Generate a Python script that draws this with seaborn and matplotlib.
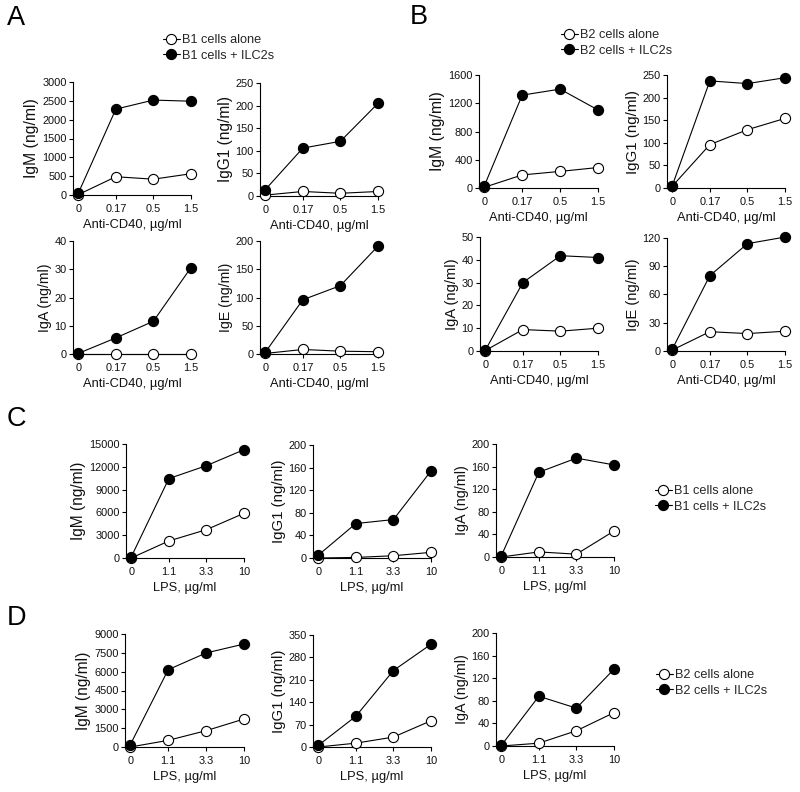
import matplotlib
matplotlib.use("Agg")
import matplotlib.pyplot as plt
import seaborn as sns
import pandas as pd
import numpy as np
from matplotlib.lines import Line2D

sns.set_theme(style="ticks")
plt.rcParams['font.family'] = ['Liberation Sans', 'DejaVu Sans']

# ---------------- data ----------------
x_cd40 = ["0", "0.17", "0.5", "1.5"]
x_lps = ["0", "1.1", "3.3", "10"]

A_IgM_alone = [10, 485, 420, 565]
A_IgM_ilc2 = [45, 2280, 2520, 2490]
A_IgG1_alone = [2, 10, 6, 10]
A_IgG1_ilc2 = [14, 106, 121, 205]
A_IgA_alone = [0, 0, 0, 0]
A_IgA_ilc2 = [0.2, 5.7, 11.6, 30.6]
A_IgE_alone = [1, 8, 5, 4]
A_IgE_ilc2 = [3, 96, 121, 191]

B_IgM_alone = [10, 185, 235, 290]
B_IgM_ilc2 = [30, 1315, 1400, 1105]
B_IgG1_alone = [4, 96, 129, 154]
B_IgG1_ilc2 = [5, 237, 231, 244]
B_IgA_alone = [0.2, 9.4, 8.7, 10]
B_IgA_ilc2 = [0.3, 30, 41.8, 41]
B_IgE_alone = [1, 20.5, 18.5, 21]
B_IgE_ilc2 = [2, 80, 114, 121]

C_IgM_alone = [0, 2240, 3730, 5880]
C_IgM_ilc2 = [150, 10450, 12150, 14250]
C_IgG1_alone = [0, 1, 4, 10]
C_IgG1_ilc2 = [5, 61, 68, 154]
C_IgA_alone = [0, 9, 5, 46]
C_IgA_ilc2 = [2, 150, 175, 163]

D_IgM_alone = [0, 530, 1300, 2230]
D_IgM_ilc2 = [185, 6160, 7490, 8200]
D_IgG1_alone = [0, 12, 31, 82]
D_IgG1_ilc2 = [5, 96, 239, 321]
D_IgA_alone = [0, 5, 27, 59]
D_IgA_ilc2 = [1, 88, 67, 136]

xlab_cd40 = "Anti-CD40, µg/ml"
xlab_lps = "LPS, µg/ml"

# ---------------- layout ----------------
W, H = 800, 792
fig = plt.figure(figsize=(W / 100, H / 100), dpi=100)

def px_axes(L, R, T, B):
    return fig.add_axes([L / W, 1 - B / H, (R - L) / W, (B - T) / H])

panels = [
    # (L, R, T, B, xlabels, xlabel, ylabel, alone, ilc2, ymax, ystep, ylabel size)
    (73, 191, 82, 195, x_cd40, xlab_cd40, "IgM (ng/ml)", A_IgM_alone, A_IgM_ilc2, 3000, 500, 11.3),
    (260, 378, 83, 196, x_cd40, xlab_cd40, "IgG1 (ng/ml)", A_IgG1_alone, A_IgG1_ilc2, 250, 50, 11.2),
    (73, 191, 241, 354, x_cd40, xlab_cd40, "IgA (ng/ml)", A_IgA_alone, A_IgA_ilc2, 40, 10, 10.2),
    (260, 378, 241, 354, x_cd40, xlab_cd40, "IgE (ng/ml)", A_IgE_alone, A_IgE_ilc2, 200, 50, 10.2),
    (479, 598, 75, 188, x_cd40, xlab_cd40, "IgM (ng/ml)", B_IgM_alone, B_IgM_ilc2, 1600, 400, 11.3),
    (667, 785, 75, 188, x_cd40, xlab_cd40, "IgG1 (ng/ml)", B_IgG1_alone, B_IgG1_ilc2, 250, 50, 10.9),
    (480, 598, 237, 351, x_cd40, xlab_cd40, "IgA (ng/ml)", B_IgA_alone, B_IgA_ilc2, 50, 10, 10.6),
    (667, 785, 238, 351, x_cd40, xlab_cd40, "IgE (ng/ml)", B_IgE_alone, B_IgE_ilc2, 120, 30, 10.6),
    (126, 244, 444, 558, x_lps, xlab_lps, "IgM (ng/ml)", C_IgM_alone, C_IgM_ilc2, 15000, 3000, 11.2),
    (313, 431, 445, 558, x_lps, xlab_lps, "IgG1 (ng/ml)", C_IgG1_alone, C_IgG1_ilc2, 200, 40, 10.8),
    (496, 614, 444, 557, x_lps, xlab_lps, "IgA (ng/ml)", C_IgA_alone, C_IgA_ilc2, 200, 40, 10.4),
    (125, 244, 634, 747, x_lps, xlab_lps, "IgM (ng/ml)", D_IgM_alone, D_IgM_ilc2, 9000, 1500, 11.2),
    (313, 431, 635, 747, x_lps, xlab_lps, "IgG1 (ng/ml)", D_IgG1_alone, D_IgG1_ilc2, 350, 70, 10.8),
    (496, 614, 633, 746, x_lps, xlab_lps, "IgA (ng/ml)", D_IgA_alone, D_IgA_ilc2, 200, 40, 10.4),
]

tick_fs = 7.9
lab_fs = 9.3
ms = 7.3

for (L, R, T, B, xl, xlab, ylab, alone, ilc2, ymax, ystep, yfs) in panels:
    ax = px_axes(L, R, T, B)
    pos = np.arange(len(xl))
    df = pd.DataFrame({"x": np.concatenate([pos, pos]),
                       "y": list(alone) + list(ilc2),
                       "grp": ["alone"] * len(xl) + ["ilc2"] * len(xl)})
    sns.lineplot(data=df[df.grp == "alone"], x="x", y="y", ax=ax, color="black",
                 lw=0.8, marker="o", markersize=ms, markerfacecolor="white",
                 markeredgecolor="black", markeredgewidth=0.8, clip_on=False, zorder=3)
    sns.lineplot(data=df[df.grp == "ilc2"], x="x", y="y", ax=ax, color="black",
                 lw=0.8, marker="o", markersize=ms, markerfacecolor="black",
                 markeredgecolor="black", markeredgewidth=0.8, clip_on=False, zorder=4)
    ax.set_xlim(-0.14, 3)
    ax.set_ylim(0, ymax)
    ax.set_xticks(pos)
    ax.set_xticklabels(xl)
    yt = np.arange(0, ymax + ystep / 2, ystep)
    ax.set_yticks(yt)
    ax.set_yticklabels([f"{int(v)}" for v in yt])
    ax.tick_params(axis="both", labelsize=tick_fs, length=3, width=0.8,
                   color="black", labelcolor="#111111")
    ax.tick_params(axis="x", pad=3.5)
    ax.tick_params(axis="y", pad=1.5)
    for s in ["top", "right"]:
        ax.spines[s].set_visible(False)
    for s in ["left", "bottom"]:
        ax.spines[s].set_linewidth(0.8)
        ax.spines[s].set_color("black")
    ax.set_xlabel(xlab, fontsize=lab_fs, labelpad=3.5, color="#111111")
    ax.set_ylabel(ylab, fontsize=yfs, labelpad=2, color="#111111")
    ax.set_facecolor("none")
    ax.grid(False)

# ---------------- legends ----------------
def make_legend(x, y, cell):
    h1 = Line2D([0], [0], color="black", lw=0.8, marker="o", markersize=ms,
                markerfacecolor="white", markeredgecolor="black", markeredgewidth=0.8)
    h2 = Line2D([0], [0], color="black", lw=0.8, marker="o", markersize=ms,
                markerfacecolor="black", markeredgecolor="black", markeredgewidth=0.8)
    fig.legend([h1, h2], [f"{cell} cells alone", f"{cell} cells + ILC2s"],
               loc="center left", bbox_to_anchor=(x / W, 1 - y / H), frameon=False,
               fontsize=9.2, handlelength=1.3, handletextpad=0.15,
               labelspacing=0.25, borderpad=0, borderaxespad=0)

make_legend(163, 48, "B1")
make_legend(561, 43, "B2")
make_legend(655, 499, "B1")
make_legend(656, 683, "B2")

# ---------------- panel letters ----------------
for lbl, x, y in [("A", 7, 18), ("B", 410, 17), ("C", 7, 419), ("D", 7, 618)]:
    fig.text(x / W, 1 - y / H, lbl, fontsize=19.5, va="center", ha="left", color="black")

fig.savefig("out.png", dpi=100, facecolor="white")
